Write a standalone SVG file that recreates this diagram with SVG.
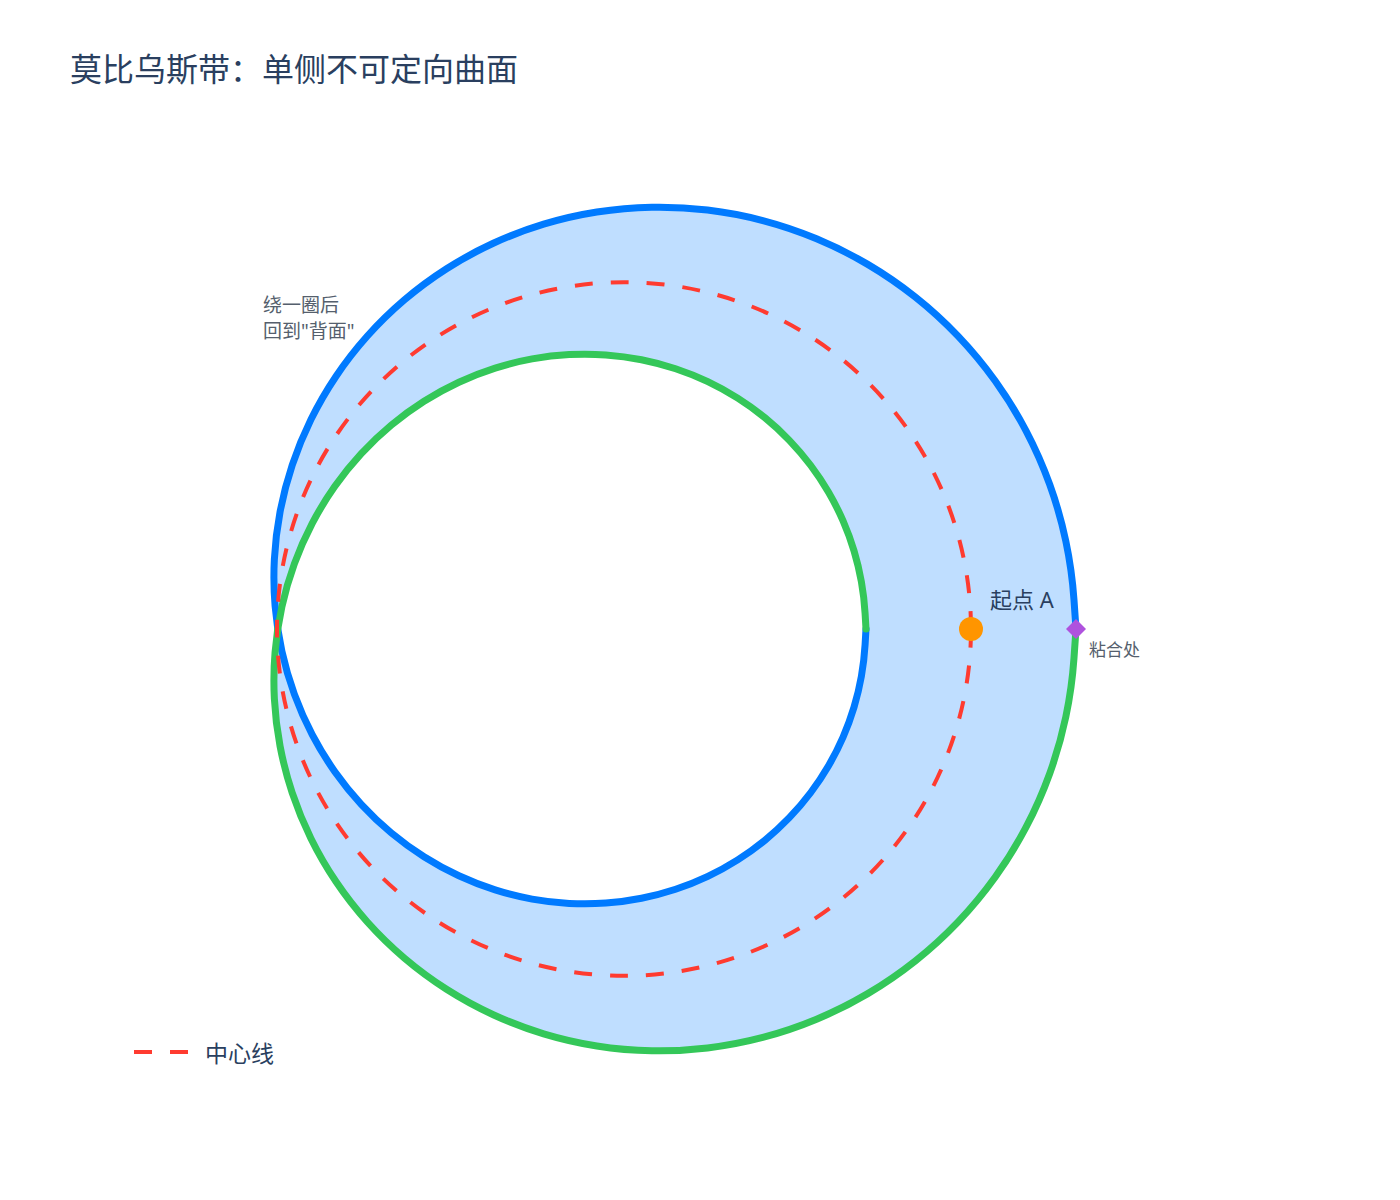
<svg xmlns="http://www.w3.org/2000/svg" width="1400" height="1200" viewBox="0 0 1400 1200">
<style>
.edge{fill:none;stroke-width:7;stroke-linejoin:round;stroke-linecap:round}
.center{fill:none;stroke:#ff3b30;stroke-width:4;stroke-dasharray:18 18}
.t{font-family:"Noto Sans","Noto Sans CJK SC",sans-serif}
</style>
<rect width="1400" height="1200" fill="#ffffff"/>
<text class="t" x="70" y="81" font-size="32" fill="#2a3f5f">莫比乌斯带：单侧不可定向曲面</text>
<g id="band">
<path fill="#bfdeff" fill-rule="evenodd" stroke="none" d="M1076,629 L1073.96,599.52 Q1071.91,570.03 1065.82,541.14 Q1059.73,512.25 1049.73,484.53 Q1039.73,456.80 1026.04,430.80 Q1012.34,404.79 995.26,381.01 Q978.17,357.23 958.07,336.13 Q937.97,315.03 915.27,297.02 Q892.57,279.00 867.77,264.37 Q842.97,249.74 816.59,238.75 Q790.20,227.76 762.79,220.56 Q735.37,213.36 707.49,210.03 Q679.60,206.70 651.80,207.23 Q624,207.75 596.84,212.04 Q569.67,216.33 543.66,224.21 Q517.65,232.08 493.27,243.30 Q468.89,254.52 446.57,268.77 Q424.25,283.02 404.37,299.94 Q384.49,316.86 367.36,336.04 Q350.22,355.22 336.08,376.22 Q321.93,397.21 310.94,419.56 Q299.95,441.91 292.22,465.14 Q284.49,488.37 280.04,512.01 Q275.58,535.64 274.37,559.23 Q273.16,582.81 275.08,605.91 Q277,629 281.89,651.20 Q286.78,673.40 294.43,694.33 Q302.07,715.26 312.21,734.61 Q322.34,753.95 334.69,771.43 Q347.03,788.91 361.26,804.30 Q375.48,819.69 391.27,832.82 Q407.05,845.95 424.04,856.70 Q441.03,867.45 458.89,875.75 Q476.75,884.04 495.14,889.87 Q513.53,895.70 532.13,899.07 Q550.73,902.43 569.24,903.41 Q587.74,904.39 605.87,903.07 Q624,901.75 641.50,898.26 Q658.99,894.77 675.62,889.25 Q692.25,883.72 707.82,876.33 Q723.38,868.93 737.71,859.85 Q752.04,850.76 764.98,840.17 Q777.91,829.58 789.34,817.68 Q800.77,805.77 810.59,792.74 Q820.41,779.71 828.55,765.75 Q836.68,751.79 843.07,737.09 Q849.45,722.38 854.04,707.13 Q858.62,691.87 861.39,676.25 Q864.15,660.62 865.08,644.81 L866,629 L865.08,613.19 Q864.15,597.38 861.39,581.75 Q858.62,566.13 854.04,550.87 Q849.45,535.62 843.07,520.91 Q836.68,506.21 828.55,492.25 Q820.41,478.29 810.59,465.26 Q800.77,452.23 789.34,440.32 Q777.91,428.42 764.98,417.83 Q752.04,407.24 737.71,398.15 Q723.38,389.07 707.82,381.67 Q692.25,374.28 675.62,368.75 Q658.99,363.23 641.50,359.74 Q624,356.25 605.87,354.93 Q587.74,353.61 569.24,354.59 Q550.73,355.57 532.13,358.93 Q513.53,362.30 495.14,368.13 Q476.75,373.96 458.89,382.25 Q441.03,390.55 424.04,401.30 Q407.05,412.05 391.27,425.18 Q375.48,438.31 361.26,453.70 Q347.03,469.09 334.69,486.57 Q322.34,504.05 312.21,523.39 Q302.07,542.74 294.43,563.67 Q286.78,584.60 281.89,606.80 Q277,629 275.08,652.09 Q273.16,675.19 274.37,698.77 Q275.58,722.36 280.04,745.99 Q284.49,769.63 292.22,792.86 Q299.95,816.09 310.94,838.44 Q321.93,860.79 336.08,881.78 Q350.22,902.78 367.36,921.96 Q384.49,941.14 404.37,958.06 Q424.25,974.98 446.57,989.23 Q468.89,1003.48 493.27,1014.70 Q517.65,1025.92 543.66,1033.79 Q569.67,1041.67 596.84,1045.96 Q624,1050.25 651.80,1050.77 Q679.60,1051.30 707.49,1047.97 Q735.37,1044.64 762.79,1037.44 Q790.20,1030.24 816.59,1019.25 Q842.97,1008.26 867.77,993.63 Q892.57,979.00 915.27,960.98 Q937.97,942.97 958.07,921.87 Q978.17,900.77 995.26,876.99 Q1012.34,853.21 1026.04,827.20 Q1039.73,801.20 1049.73,773.47 Q1059.73,745.75 1065.82,716.86 Q1071.91,687.97 1073.96,658.48 Z"/>
</g>
<g id="edges">
<path id="edge-blue" class="edge" stroke="#007aff" d="M1076,629 L1073.96,599.52 Q1071.91,570.03 1065.82,541.14 Q1059.73,512.25 1049.73,484.53 Q1039.73,456.80 1026.04,430.80 Q1012.34,404.79 995.26,381.01 Q978.17,357.23 958.07,336.13 Q937.97,315.03 915.27,297.02 Q892.57,279.00 867.77,264.37 Q842.97,249.74 816.59,238.75 Q790.20,227.76 762.79,220.56 Q735.37,213.36 707.49,210.03 Q679.60,206.70 651.80,207.23 Q624,207.75 596.84,212.04 Q569.67,216.33 543.66,224.21 Q517.65,232.08 493.27,243.30 Q468.89,254.52 446.57,268.77 Q424.25,283.02 404.37,299.94 Q384.49,316.86 367.36,336.04 Q350.22,355.22 336.08,376.22 Q321.93,397.21 310.94,419.56 Q299.95,441.91 292.22,465.14 Q284.49,488.37 280.04,512.01 Q275.58,535.64 274.37,559.23 Q273.16,582.81 275.08,605.91 Q277,629 281.89,651.20 Q286.78,673.40 294.43,694.33 Q302.07,715.26 312.21,734.61 Q322.34,753.95 334.69,771.43 Q347.03,788.91 361.26,804.30 Q375.48,819.69 391.27,832.82 Q407.05,845.95 424.04,856.70 Q441.03,867.45 458.89,875.75 Q476.75,884.04 495.14,889.87 Q513.53,895.70 532.13,899.07 Q550.73,902.43 569.24,903.41 Q587.74,904.39 605.87,903.07 Q624,901.75 641.50,898.26 Q658.99,894.77 675.62,889.25 Q692.25,883.72 707.82,876.33 Q723.38,868.93 737.71,859.85 Q752.04,850.76 764.98,840.17 Q777.91,829.58 789.34,817.68 Q800.77,805.77 810.59,792.74 Q820.41,779.71 828.55,765.75 Q836.68,751.79 843.07,737.09 Q849.45,722.38 854.04,707.13 Q858.62,691.87 861.39,676.25 Q864.15,660.62 865.08,644.81 L866,629"/>
<path id="edge-green" class="edge" stroke="#34c759" d="M866,629 L865.08,613.19 Q864.15,597.38 861.39,581.75 Q858.62,566.13 854.04,550.87 Q849.45,535.62 843.07,520.91 Q836.68,506.21 828.55,492.25 Q820.41,478.29 810.59,465.26 Q800.77,452.23 789.34,440.32 Q777.91,428.42 764.98,417.83 Q752.04,407.24 737.71,398.15 Q723.38,389.07 707.82,381.67 Q692.25,374.28 675.62,368.75 Q658.99,363.23 641.50,359.74 Q624,356.25 605.87,354.93 Q587.74,353.61 569.24,354.59 Q550.73,355.57 532.13,358.93 Q513.53,362.30 495.14,368.13 Q476.75,373.96 458.89,382.25 Q441.03,390.55 424.04,401.30 Q407.05,412.05 391.27,425.18 Q375.48,438.31 361.26,453.70 Q347.03,469.09 334.69,486.57 Q322.34,504.05 312.21,523.39 Q302.07,542.74 294.43,563.67 Q286.78,584.60 281.89,606.80 Q277,629 275.08,652.09 Q273.16,675.19 274.37,698.77 Q275.58,722.36 280.04,745.99 Q284.49,769.63 292.22,792.86 Q299.95,816.09 310.94,838.44 Q321.93,860.79 336.08,881.78 Q350.22,902.78 367.36,921.96 Q384.49,941.14 404.37,958.06 Q424.25,974.98 446.57,989.23 Q468.89,1003.48 493.27,1014.70 Q517.65,1025.92 543.66,1033.79 Q569.67,1041.67 596.84,1045.96 Q624,1050.25 651.80,1050.77 Q679.60,1051.30 707.49,1047.97 Q735.37,1044.64 762.79,1037.44 Q790.20,1030.24 816.59,1019.25 Q842.97,1008.26 867.77,993.63 Q892.57,979.00 915.27,960.98 Q937.97,942.97 958.07,921.87 Q978.17,900.77 995.26,876.99 Q1012.34,853.21 1026.04,827.20 Q1039.73,801.20 1049.73,773.47 Q1059.73,745.75 1065.82,716.86 Q1071.91,687.97 1073.96,658.48 L1076,629"/>
<path id="centerline" class="center" d="M971,629 A347,347 0 0 0 277,629 A347,347 0 0 0 971,629"/>
</g>
<g id="start-a">
<circle cx="971" cy="629" r="12" fill="#ff9500"/>
<text class="t" x="990" y="608" font-size="22" fill="#2a3f5f">起点 A</text>
</g>
<g id="joint">
<path d="M1076,619 L1086,629 L1076,639 L1066,629 Z" fill="#af52de"/>
<text class="t" x="1089" y="656" font-size="17" fill="#555f6d">粘合处</text>
</g>
<g id="note">
<text class="t" x="263" y="312" font-size="19" fill="#555f6d">绕一圈后</text>
<text class="t" x="263" y="338" font-size="19" fill="#555f6d">回到"背面"</text>
</g>
<g id="legend">
<line class="center" x1="134" y1="1052" x2="188" y2="1052"/>
<text class="t" x="205" y="1062" font-size="23" fill="#2a3f5f">中心线</text>
</g>
</svg>
